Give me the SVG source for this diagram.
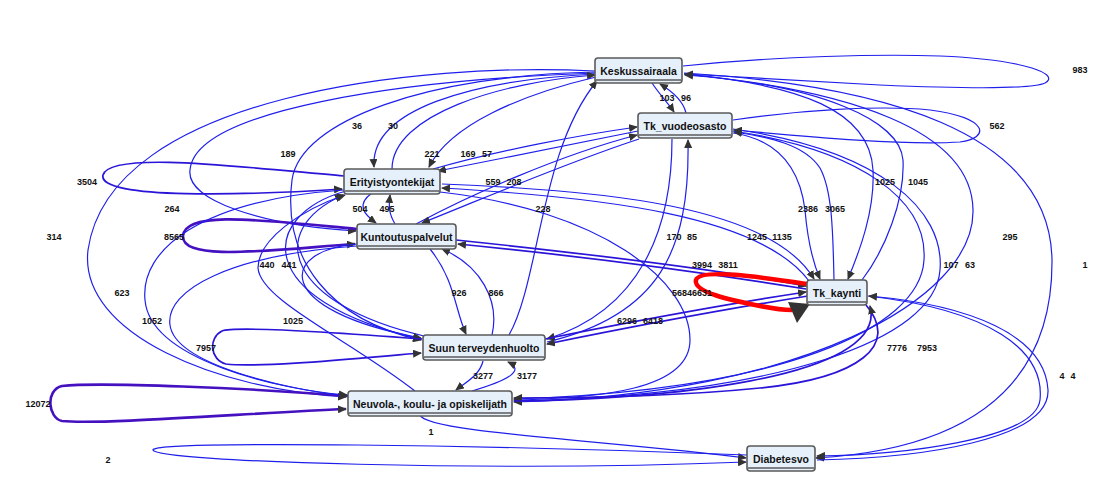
<svg xmlns="http://www.w3.org/2000/svg" width="1118" height="499" viewBox="0 0 1118 499">
<style>
.e{fill:none;stroke:#1f1fec;stroke-width:1.2}
.m{fill:none;stroke:#2a14d8;stroke-width:1.7}
.h{fill:none;stroke:#4410c0;stroke-width:2.6}
.lb{font-family:"Liberation Sans",Arial,sans-serif;font-weight:bold;font-size:9px;fill:#111;text-anchor:middle}
.nr{fill:#e6f0fb;stroke:#5a5a5a;stroke-width:1.6}
.nl{stroke:#5a5a5a;stroke-width:1.6}
.nt{font-family:"Liberation Sans",Arial,sans-serif;font-weight:bold;font-size:10.5px;fill:#111;text-anchor:middle}
</style>
<defs>
<marker id="a" markerUnits="userSpaceOnUse" markerWidth="9" markerHeight="8" refX="8" refY="4" orient="auto"><path d="M0,0 L9,4 L0,8 z" fill="#333"/></marker>
</defs>
<rect width="1118" height="499" fill="#fff"/>
<g id="connectors">
<path class="e" marker-end="url(#a)" d="M595,71 C420,62 110,95 88,250 C78,335 220,390 346,397"/>
<path class="e" marker-end="url(#a)" d="M596,73 C400,80 195,110 190,170 C186,200 260,225 356,231"/>
<path class="e" marker-end="url(#a)" d="M596,72 C430,75 300,120 292,180 C282,260 330,320 421,340"/>
<path class="e" marker-end="url(#a)" d="M596,74 C470,80 370,110 374,167"/>
<path class="e" marker-end="url(#a)" d="M392,169 C392,115 500,82 595,75"/>
<path class="e" marker-end="url(#a)" d="M596,77 C520,95 450,125 429,167"/>
<path class="e" marker-end="url(#a)" d="M433,169 C500,150 580,135 637,127"/>
<path class="e" marker-end="url(#a)" d="M638,131 C580,142 505,158 438,171"/>
<path class="e" marker-end="url(#a)" d="M416,224 C470,195 560,155 637,135"/>
<path class="e" marker-end="url(#a)" d="M639,139 C560,165 480,200 422,223"/>
<path class="m" marker-end="url(#a)" d="M344,176 C250,168 110,150 103,175 C97,200 250,195 342,189"/>
<path class="h" marker-end="url(#a)" d="M357,229 C260,220 185,210 183,236 C182,262 270,250 355,244"/>
<path class="e" marker-end="url(#a)" d="M372,193 C355,205 365,215 376,223"/>
<path class="e" marker-end="url(#a)" d="M395,224 C388,212 389,205 390,195"/>
<path class="e" marker-end="url(#a)" d="M509,335 C540,280 540,150 597,81"/>
<path class="e" marker-end="url(#a)" d="M652,83 C660,95 668,103 674,112"/>
<path class="e" marker-end="url(#a)" d="M686,113 C683,100 670,90 660,84"/>
<path class="e" marker-end="url(#a)" d="M672,139 C672,230 640,310 547,339"/>
<path class="e" marker-end="url(#a)" d="M547,342 C660,315 690,250 688,140"/>
<path class="e" marker-end="url(#a)" d="M442,184 C600,190 770,205 814,279"/>
<path class="e" marker-end="url(#a)" d="M809,281 C760,215 600,197 442,188"/>
<path class="m" marker-end="url(#a)" d="M456,240 C600,255 720,270 806,286"/>
<path class="m" marker-end="url(#a)" d="M806,289 C720,275 600,258 458,244"/>
<path class="e" marker-end="url(#a)" d="M733,133 C780,140 800,170 805,210 C808,245 814,265 820,279"/>
<path class="e" marker-end="url(#a)" d="M834,280 C833,230 832,190 820,168 C805,145 770,137 734,132"/>
<path class="e" marker-end="url(#a)" d="M684,74 C800,85 870,110 873,170 C875,210 860,250 848,279"/>
<path class="e" marker-end="url(#a)" d="M862,280 C885,250 905,200 903,160 C900,120 820,85 685,75"/>
<path class="e" marker-end="url(#a)" d="M684,74 C850,90 972,130 973,210 C975,300 800,395 514,402"/>
<path class="e" marker-end="url(#a)" d="M684,73 C880,85 1050,130 1052,260 C1053,400 950,450 816,458"/>
<path class="e" marker-end="url(#a)" d="M733,131 C860,150 928,200 924,260 C920,330 780,390 514,399"/>
<path class="e" marker-end="url(#a)" d="M733,129 C880,150 945,210 940,270 C935,340 780,395 514,401"/>
<path class="e" marker-end="url(#a)" d="M683,66 C780,56 880,54 940,56 C1030,60 1060,75 1045,83 C1030,90 950,88 880,85 C800,81 720,76 685,74"/>
<path class="e" marker-end="url(#a)" d="M733,120 C800,110 880,105 930,110 C990,118 990,138 960,142 C900,146 790,135 734,130"/>
<path class="m" marker-end="url(#a)" d="M545,339 C650,318 720,305 806,292"/>
<path class="m" marker-end="url(#a)" d="M808,296 C720,310 640,325 547,344"/>
<path class="e" marker-end="url(#a)" d="M430,249 C455,280 455,310 466,334"/>
<path class="e" marker-end="url(#a)" d="M492,335 C500,300 480,265 442,249"/>
<path class="e" marker-end="url(#a)" d="M346,191 C260,215 250,300 421,339"/>
<path class="e" marker-end="url(#a)" d="M424,336 C290,305 262,232 343,195"/>
<path class="e" marker-end="url(#a)" d="M357,244 C280,250 270,310 421,338"/>
<path class="m" marker-end="url(#a)" d="M422,339 C330,332 235,326 222,331 C208,338 210,360 226,364 C260,368 360,358 421,353"/>
<path class="e" marker-end="url(#a)" d="M483,361 C480,375 465,383 456,390"/>
<path class="e" marker-end="url(#a)" d="M472,391 C510,380 525,370 508,362"/>
<path class="h" marker-end="url(#a)" d="M348,396 C250,388 100,382 62,386 C45,390 48,418 62,421 C100,425 250,413 346,409"/>
<path class="e" marker-end="url(#a)" d="M344,190 C200,200 140,250 145,300 C150,360 280,390 347,395"/>
<path class="e" marker-end="url(#a)" d="M357,246 C230,255 165,290 170,325 C175,365 290,390 347,396"/>
<path class="e" marker-end="url(#a)" d="M415,391 C350,340 260,300 258,268 C258,240 300,210 345,195"/>
<path class="e" marker-end="url(#a)" d="M440,192 C600,210 690,280 690,340 C690,390 600,398 514,400"/>
<path class="m" marker-end="url(#a)" d="M866,305 C900,345 860,378 760,388 C680,396 600,398 514,398"/>
<path class="m" marker-end="url(#a)" d="M514,401 C650,400 890,380 870,306"/>
<path class="e" marker-end="url(#a)" d="M868,296 C990,310 1045,350 1040,400 C1035,440 900,455 817,456"/>
<path class="e" marker-end="url(#a)" d="M817,460 C920,458 1050,440 1048,390 C1045,335 970,305 869,296"/>
<path class="e" marker-end="url(#a)" d="M420,415 C425,432 600,440 746,458"/>
<path class="e" marker-end="url(#a)" d="M747,455 C500,445 150,440 153,450 C156,462 500,472 746,462"/>
<path fill="none" stroke="#ff0000" stroke-width="4.5" d="M807,284 C760,277 700,268 696,280 C693,292 730,300 760,306 C775,309 785,310 792,310"/>
<polygon points="788,302 810,304 797,323" fill="#333"/>
</g>
<g id="labels">
<text class="lb" x="1080" y="73">983</text>
<text class="lb" x="667" y="101">103</text>
<text class="lb" x="686" y="101">96</text>
<text class="lb" x="997" y="129">562</text>
<text class="lb" x="357" y="129">36</text>
<text class="lb" x="393" y="129">30</text>
<text class="lb" x="288" y="157">189</text>
<text class="lb" x="432" y="157">221</text>
<text class="lb" x="468" y="157">169</text>
<text class="lb" x="487" y="157">57</text>
<text class="lb" x="87" y="185">3504</text>
<text class="lb" x="493" y="185">559</text>
<text class="lb" x="514" y="185">208</text>
<text class="lb" x="885" y="185">1025</text>
<text class="lb" x="918" y="185">1045</text>
<text class="lb" x="172" y="212">264</text>
<text class="lb" x="360" y="212">504</text>
<text class="lb" x="387" y="212">495</text>
<text class="lb" x="543" y="212">228</text>
<text class="lb" x="808" y="212">2386</text>
<text class="lb" x="835" y="212">3065</text>
<text class="lb" x="54" y="240">314</text>
<text class="lb" x="174" y="240">8565</text>
<text class="lb" x="674" y="240">170</text>
<text class="lb" x="692" y="240">85</text>
<text class="lb" x="757" y="240">1245</text>
<text class="lb" x="782" y="240">1135</text>
<text class="lb" x="1010" y="240">295</text>
<text class="lb" x="267" y="268">440</text>
<text class="lb" x="289" y="268">441</text>
<text class="lb" x="702" y="268">3994</text>
<text class="lb" x="728" y="268">3811</text>
<text class="lb" x="951" y="268">107</text>
<text class="lb" x="970" y="268">63</text>
<text class="lb" x="1085" y="268">1</text>
<text class="lb" x="122" y="296">623</text>
<text class="lb" x="459" y="296">926</text>
<text class="lb" x="496" y="296">866</text>
<text class="lb" x="692" y="296">56846631</text>
<text class="lb" x="152" y="324">1052</text>
<text class="lb" x="293" y="324">1025</text>
<text class="lb" x="627" y="324">6296</text>
<text class="lb" x="653" y="324">6418</text>
<text class="lb" x="206" y="351">7957</text>
<text class="lb" x="897" y="351">7776</text>
<text class="lb" x="927" y="351">7953</text>
<text class="lb" x="483" y="379">3277</text>
<text class="lb" x="527" y="379">3177</text>
<text class="lb" x="1062" y="379">4</text>
<text class="lb" x="1073" y="379">4</text>
<text class="lb" x="38" y="407">12072</text>
<text class="lb" x="431" y="435">1</text>
<text class="lb" x="108" y="463">2</text>
</g>
<g id="n-keskussairaala"><rect class="nr" x="595" y="58" width="87" height="25" rx="3"/><line class="nl" x1="596" y1="80" x2="681" y2="80"/><text class="nt" x="638.5" y="75">Keskussairaala</text></g>
<g id="n-tk-vuodeosasto"><rect class="nr" x="638" y="113" width="94" height="25" rx="3"/><line class="nl" x1="639" y1="135" x2="731" y2="135"/><text class="nt" x="685" y="130">Tk_vuodeosasto</text></g>
<g id="n-erityistyontekijat"><rect class="nr" x="344" y="169" width="96" height="25" rx="3"/><line class="nl" x1="345" y1="191" x2="439" y2="191"/><text class="nt" x="392" y="186">Erityistyontekijat</text></g>
<g id="n-kuntoutuspalvelut"><rect class="nr" x="357" y="224" width="99" height="25" rx="3"/><line class="nl" x1="358" y1="246" x2="455" y2="246"/><text class="nt" x="406.5" y="241">Kuntoutuspalvelut</text></g>
<g id="n-tk-kaynti"><rect class="nr" x="807" y="280" width="60" height="25" rx="3"/><line class="nl" x1="808" y1="302" x2="866" y2="302"/><text class="nt" x="837" y="297">Tk_kaynti</text></g>
<g id="n-suun"><rect class="nr" x="423" y="335" width="122" height="25" rx="3"/><line class="nl" x1="424" y1="357" x2="544" y2="357"/><text class="nt" x="484" y="352">Suun terveydenhuolto</text></g>
<g id="n-neuvola"><rect class="nr" x="348" y="391" width="164" height="25" rx="3"/><line class="nl" x1="349" y1="413" x2="511" y2="413"/><text class="nt" x="430" y="408">Neuvola-, koulu- ja opiskelijath</text></g>
<g id="n-diabetesvo"><rect class="nr" x="747" y="446" width="68" height="25" rx="3"/><line class="nl" x1="748" y1="468" x2="814" y2="468"/><text class="nt" x="781" y="463">Diabetesvo</text></g>
</svg>
